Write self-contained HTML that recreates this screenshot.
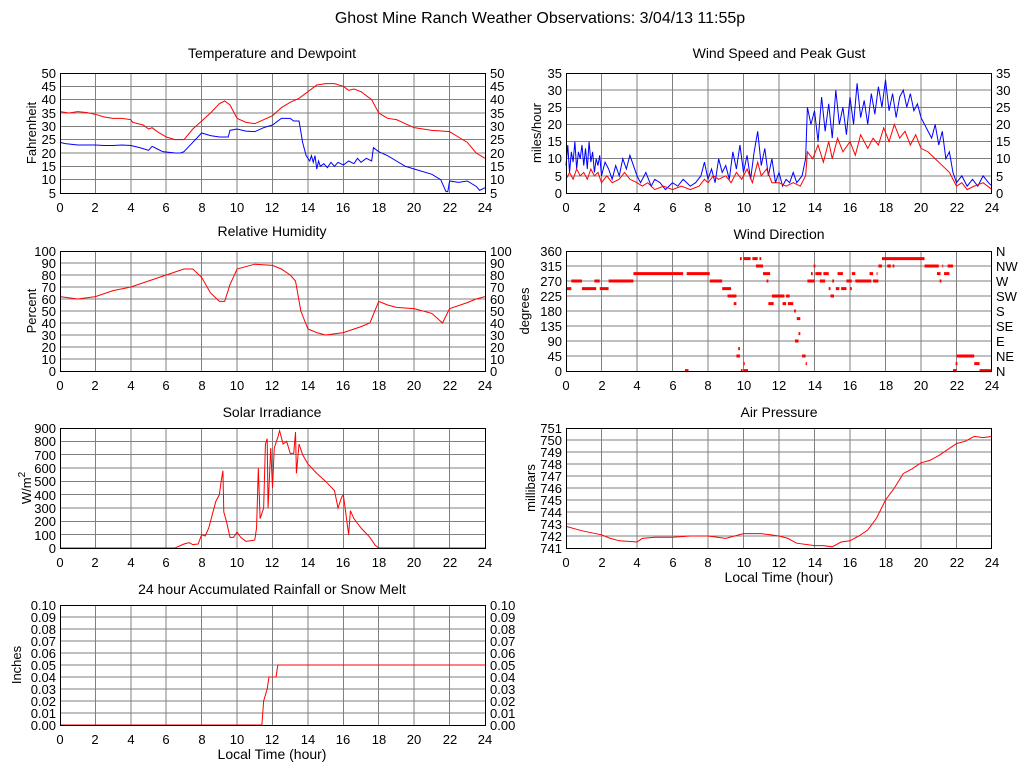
<!DOCTYPE html>
<html><head><meta charset="utf-8"><style>
html,body{margin:0;padding:0;background:#fff}
svg{display:block;font-family:"Liberation Sans",sans-serif;font-size:13px}
.g{stroke:#808080;stroke-width:1;fill:none;vector-effect:non-scaling-stroke;shape-rendering:crispEdges}
.b{stroke:#000;stroke-width:1;fill:none;shape-rendering:crispEdges}
.r{stroke:#f00;stroke-width:1;fill:none;vector-effect:non-scaling-stroke}
.bl{stroke:#00f;stroke-width:1;fill:none;vector-effect:non-scaling-stroke}
.d{stroke:#f00;stroke-width:3;fill:none;vector-effect:non-scaling-stroke}
.le text{text-anchor:end}
.ri text{text-anchor:start}
.xt text{text-anchor:middle}
.t{text-anchor:middle;font-size:14px}
</style></head><body>
<svg width="1024" height="768" viewBox="0 0 1024 768">
<rect width="1024" height="768" fill="#fff"/>
<text x="540" y="23" text-anchor="middle" font-size="16">Ghost Mine Ranch Weather Observations: 3/04/13 11:55p</text>

<!-- Temperature -->
<text class="t" x="272" y="58">Temperature and Dewpoint</text>
<g transform="translate(60,193) scale(17.708,-2.6667)">
<path class="g" d="M2 0V45M4 0V45M6 0V45M8 0V45M10 0V45M12 0V45M14 0V45M16 0V45M18 0V45M20 0V45M22 0V45M0 5H24M0 10H24M0 15H24M0 20H24M0 25H24M0 30H24M0 35H24M0 40H24"/>
<polyline class="r" points="0,30.5 0.5,30 1,30.5 1.5,30.2 2,29.5 2.5,28.5 3,28 3.5,28 4,27.5 4.1,26.5 4.7,25.5 5,24 5.2,24.5 5.5,23 6,21 6.5,20 7,20 7.5,24 8,27 8.5,30 9,33.5 9.3,34.5 9.6,33 10,28 10.5,26.5 11,26 11.5,27.5 12,29 12.5,32 13,34 13.5,35.5 14,38 14.5,40.5 15,41 15.5,41 16,40 16.3,38.5 16.6,39 17,38 17.6,35 18,30 18.5,28 19,27.5 19.5,26 20,24.5 21,23.5 22,23 22.5,21 23,19 23.5,15 24,13"/>
<polyline class="bl" points="0,19 0.3,18.5 1,18 2,18 2.5,17.8 3,17.8 3.5,18 4,17.8 4.5,17 5,16 5.2,17.5 5.5,16.5 5.8,15.5 6.5,15 6.8,15 7,15.5 7.5,19 8,22.5 8.5,21.5 9,21 9.5,21 9.6,23.5 10,24 10.5,23.2 11,23 11.5,24.5 12,25.5 12.5,28 13,28 13.2,27 13.5,27 13.7,19 13.9,14 14.1,12 14.2,14 14.3,11.5 14.4,14 14.5,9 14.6,12 14.7,10 14.9,11 15.1,9.5 15.3,11.5 15.5,10 15.7,11.5 16,10.5 16.3,12 16.6,11 16.8,13 17,11.5 17.3,13 17.6,12 17.7,17 18,15.5 18.5,14 19,12 19.5,10 20,9 21,7 21.5,5 21.8,0.5 21.9,0.5 22,4.5 22.5,4 23,4.5 23.5,2.5 23.7,1 24,2"/>
</g>
<rect class="b" x="60.5" y="73.5" width="425" height="120"/>
<text x="36" y="133" transform="rotate(-90 36 133)" text-anchor="middle">Fahrenheit</text>
<g class="le"><text x="56" y="78">50</text><text x="56" y="91">45</text><text x="56" y="104">40</text><text x="56" y="118">35</text><text x="56" y="131">30</text><text x="56" y="144">25</text><text x="56" y="158">20</text><text x="56" y="171">15</text><text x="56" y="184">10</text><text x="56" y="198">5</text></g>
<g class="ri"><text x="490" y="78">50</text><text x="490" y="91">45</text><text x="490" y="104">40</text><text x="490" y="118">35</text><text x="490" y="131">30</text><text x="490" y="144">25</text><text x="490" y="158">20</text><text x="490" y="171">15</text><text x="490" y="184">10</text><text x="490" y="198">5</text></g>
<g class="xt"><text x="60" y="212">0</text><text x="95" y="212">2</text><text x="131" y="212">4</text><text x="166" y="212">6</text><text x="202" y="212">8</text><text x="237" y="212">10</text><text x="272" y="212">12</text><text x="308" y="212">14</text><text x="343" y="212">16</text><text x="379" y="212">18</text><text x="414" y="212">20</text><text x="450" y="212">22</text><text x="485" y="212">24</text></g>

<!-- Wind speed -->
<text class="t" x="779" y="58">Wind Speed and Peak Gust</text>
<g transform="translate(566,193) scale(17.75,-3.4286)">
<path class="g" d="M2 0V35M4 0V35M6 0V35M8 0V35M10 0V35M12 0V35M14 0V35M16 0V35M18 0V35M20 0V35M22 0V35M0 5H24M0 10H24M0 15H24M0 20H24M0 25H24M0 30H24"/>
<polyline class="bl" points="0,8 0.1,14 0.2,6 0.3,12 0.4,9 0.5,15 0.6,7 0.7,12 0.8,10 0.9,14 1,8 1.1,13 1.2,7 1.3,15 1.4,9 1.5,12 1.6,6 1.7,10 1.8,8 1.9,11 2,5 2.2,9 2.4,7 2.6,4 2.8,8 3,5 3.2,10 3.4,7 3.6,11 3.8,8 4,5 4.2,3 4.5,6 4.8,2 5,4 5.3,3 5.6,1 6,3 6.3,2 6.6,4 7,2 7.3,3 7.6,5 7.8,9 8,4 8.2,7 8.4,3 8.6,10 8.8,6 9,8 9.2,4 9.4,12 9.6,7 9.8,14 10,6 10.2,11 10.4,4 10.6,12 10.8,18 11,8 11.2,13 11.4,5 11.6,10 11.8,3 12,6 12.2,2 12.4,4 12.6,3 12.8,6 13,3 13.3,5 13.5,10 13.6,25 13.8,20 14,24 14.2,15 14.4,28 14.6,18 14.8,26 15,16 15.2,30 15.4,20 15.6,25 15.8,17 16,28 16.2,20 16.4,32 16.6,22 16.8,27 17,20 17.2,29 17.4,23 17.6,31 17.8,25 18,33 18.2,24 18.4,29 18.6,22 18.8,28 19,30 19.2,25 19.4,29 19.6,24 19.8,26 20,22 20.3,19 20.6,16 20.8,20 21,14 21.2,18 21.4,10 21.6,12 21.8,6 22,3 22.3,5 22.6,2 22.9,4 23.2,2 23.5,5 23.8,3 24,2"/>
<polyline class="r" points="0,4 0.2,6 0.4,4 0.6,7 0.8,5 1,6 1.2,4 1.4,7 1.6,5 1.8,6 2,3 2.3,5 2.6,3 3,4 3.3,6 3.6,4 4,3 4.3,2 4.6,3 5,1 5.5,2 6,1 6.5,2 7,1 7.5,2 7.8,4 8,3 8.3,5 8.6,4 9,5 9.3,3 9.6,6 9.9,4 10.2,7 10.5,3 10.8,9 11,5 11.3,7 11.6,3 12,3 12.4,2 12.8,3 13.2,2 13.5,5 13.6,12 13.9,10 14.2,14 14.5,9 14.8,15 15,10 15.3,16 15.6,12 16,15 16.3,11 16.6,17 17,13 17.3,16 17.6,14 17.9,19 18.2,15 18.5,20 18.8,16 19.1,18 19.4,14 19.7,17 20,13 20.4,12 20.8,10 21.2,8 21.6,6 22,2 22.3,3 22.6,1 23,2 23.5,3 24,1"/>
</g>
<rect class="b" x="566.5" y="73.5" width="425" height="120"/>
<text x="541" y="133" transform="rotate(-90 541 133)" text-anchor="middle">miles/hour</text>
<g class="le"><text x="562" y="78">35</text><text x="562" y="95">30</text><text x="562" y="112">25</text><text x="562" y="129">20</text><text x="562" y="146">15</text><text x="562" y="163">10</text><text x="562" y="181">5</text><text x="562" y="198">0</text></g>
<g class="ri"><text x="996" y="78">35</text><text x="996" y="95">30</text><text x="996" y="112">25</text><text x="996" y="129">20</text><text x="996" y="146">15</text><text x="996" y="163">10</text><text x="996" y="181">5</text><text x="996" y="198">0</text></g>
<g class="xt"><text x="566" y="212">0</text><text x="602" y="212">2</text><text x="637" y="212">4</text><text x="673" y="212">6</text><text x="708" y="212">8</text><text x="744" y="212">10</text><text x="779" y="212">12</text><text x="815" y="212">14</text><text x="850" y="212">16</text><text x="886" y="212">18</text><text x="921" y="212">20</text><text x="957" y="212">22</text><text x="992" y="212">24</text></g>

<!-- Humidity -->
<text class="t" x="272" y="236">Relative Humidity</text>
<g transform="translate(60,371) scale(17.708,-1.2)">
<path class="g" d="M2 0V100M4 0V100M6 0V100M8 0V100M10 0V100M12 0V100M14 0V100M16 0V100M18 0V100M20 0V100M22 0V100M0 10H24M0 20H24M0 30H24M0 40H24M0 50H24M0 60H24M0 70H24M0 80H24M0 90H24"/>
<polyline class="r" points="0,62 1,60 2,62 3,67 4,70 5,75 6,80 7,85 7.5,85 8,78 8.5,65 9,58 9.3,58 9.6,72 10,85 11,89 12,88 12.5,85 13,80 13.3,75 13.6,50 14,35 14.5,32 15,30 16,32 17,37 17.5,40 18,58 18.5,55 19,53 20,52 21,48 21.6,40 22,52 23,57 23.5,60 24,62"/>
</g>
<rect class="b" x="60.5" y="251.5" width="425" height="120"/>
<text x="36" y="311" transform="rotate(-90 36 311)" text-anchor="middle">Percent</text>
<g class="le"><text x="56" y="256">100</text><text x="56" y="268">90</text><text x="56" y="280">80</text><text x="56" y="292">70</text><text x="56" y="304">60</text><text x="56" y="316">50</text><text x="56" y="328">40</text><text x="56" y="340">30</text><text x="56" y="352">20</text><text x="56" y="364">10</text><text x="56" y="376">0</text></g>
<g class="ri"><text x="490" y="256">100</text><text x="490" y="268">90</text><text x="490" y="280">80</text><text x="490" y="292">70</text><text x="490" y="304">60</text><text x="490" y="316">50</text><text x="490" y="328">40</text><text x="490" y="340">30</text><text x="490" y="352">20</text><text x="490" y="364">10</text><text x="490" y="376">0</text></g>
<g class="xt"><text x="60" y="390">0</text><text x="95" y="390">2</text><text x="131" y="390">4</text><text x="166" y="390">6</text><text x="202" y="390">8</text><text x="237" y="390">10</text><text x="272" y="390">12</text><text x="308" y="390">14</text><text x="343" y="390">16</text><text x="379" y="390">18</text><text x="414" y="390">20</text><text x="450" y="390">22</text><text x="485" y="390">24</text></g>

<!-- Wind direction -->
<text class="t" x="779" y="239">Wind Direction</text>
<g transform="translate(566,371) scale(17.75,-0.33333)">
<path class="g" d="M2 0V360M4 0V360M6 0V360M8 0V360M10 0V360M12 0V360M14 0V360M16 0V360M18 0V360M20 0V360M22 0V360M0 45H24M0 90H24M0 135H24M0 180H24M0 225H24M0 270H24M0 315H24"/>
<path class="d" d="M0 247H0.3M0.3 270H0.9M0.9 247H1.7M1.6 270H1.9M1.9 247H2.4M2.4 270H3.8M3.8 292H6.6M6.7 1H6.9M6.8 292H8.1M8.1 270H8.8M8.8 247H9.3M9.1 225H9.6M9.45 202H9.6M9.6 45H9.8M9.7 67H9.8M9.85 1H9.95M10 1H10.25M10 22H10.07M9.8 337H9.9M10 337H10.4M10.5 337H10.8M10.9 337H11M10.7 315H11.1M11.1 292H11.5M11.3 270H11.4M11.4 202H11.7M11.6 225H12.3M12.2 202H12.4M12.4 225H12.6M12.5 202H12.8M12.85 180H12.95M13 157H13.2M13.1 112H13.2M12.9 90H13.1M13.3 45H13.5M13.5 22H13.57M13.6 270H14M13.8 292H13.9M13.95 315H14.05M14.05 292H14.4M14.3 270H14.6M14.5 292H14.8M14.8 247H14.9M14.9 225H15.1M15 270H15.1M15.2 247H15.4M15.3 292H15.6M15.5 247H15.8M15.8 270H16.1M16 247H16.1M16.1 292H16.3M16.3 270H17.2M17.1 292H17.3M17.3 270H17.6M17.5 292H17.55M17.6 315H17.8M17.8 337H20.2M18.1 315H18.3M18.4 315H18.5M20.2 315H21M20.9 292H21.1M21.05 270H21.15M21.2 315H21.25M21.3 292H21.6M21.5 315H21.8M21.8 1H22M21.95 22H22.05M22 45H23M23 22H23.3M23.3 1H24"/>
</g>
<rect class="b" x="566.5" y="251.5" width="425" height="120"/>
<text x="529" y="311" transform="rotate(-90 529 311)" text-anchor="middle">degrees</text>
<g class="le"><text x="562" y="256">360</text><text x="562" y="271">315</text><text x="562" y="286">270</text><text x="562" y="301">225</text><text x="562" y="316">180</text><text x="562" y="331">135</text><text x="562" y="346">90</text><text x="562" y="361">45</text><text x="562" y="376">0</text></g>
<g class="ri"><text x="996" y="256">N</text><text x="996" y="271">NW</text><text x="996" y="286">W</text><text x="996" y="301">SW</text><text x="996" y="316">S</text><text x="996" y="331">SE</text><text x="996" y="346">E</text><text x="996" y="361">NE</text><text x="996" y="376">N</text></g>
<g class="xt"><text x="566" y="390">0</text><text x="602" y="390">2</text><text x="637" y="390">4</text><text x="673" y="390">6</text><text x="708" y="390">8</text><text x="744" y="390">10</text><text x="779" y="390">12</text><text x="815" y="390">14</text><text x="850" y="390">16</text><text x="886" y="390">18</text><text x="921" y="390">20</text><text x="957" y="390">22</text><text x="992" y="390">24</text></g>

<!-- Solar -->
<text class="t" x="272" y="417">Solar Irradiance</text>
<g transform="translate(60,548) scale(17.708,-0.13333)">
<path class="g" d="M2 0V900M4 0V900M6 0V900M8 0V900M10 0V900M12 0V900M14 0V900M16 0V900M18 0V900M20 0V900M22 0V900M0 100H24M0 200H24M0 300H24M0 400H24M0 500H24M0 600H24M0 700H24M0 800H24"/>
<polyline class="r" points="0,0 6.5,0 7,30 7.3,40 7.5,25 7.8,30 8,100 8.2,90 8.4,150 8.6,250 8.8,350 9,400 9.1,500 9.2,580 9.25,270 9.4,200 9.6,80 9.8,80 10,120 10.2,80 10.5,50 10.8,55 11,60 11.1,150 11.2,600 11.3,220 11.5,300 11.6,780 11.7,820 11.75,300 11.9,750 12,450 12.1,750 12.3,830 12.4,880 12.6,780 12.8,800 13,710 13.2,710 13.3,870 13.35,560 13.5,780 13.7,700 14,630 14.5,560 15,500 15.5,430 15.7,300 15.9,380 16,400 16.2,200 16.3,100 16.4,280 16.6,220 17,150 17.5,80 17.8,20 18,0 24,0"/>
</g>
<rect class="b" x="60.5" y="428.5" width="425" height="120"/>
<text x="31" y="488" transform="rotate(-90 31 488)" text-anchor="middle">W/m<tspan dy="-6" font-size="10">2</tspan></text>
<g class="le"><text x="56" y="433">900</text><text x="56" y="446">800</text><text x="56" y="460">700</text><text x="56" y="473">600</text><text x="56" y="486">500</text><text x="56" y="500">400</text><text x="56" y="513">300</text><text x="56" y="526">200</text><text x="56" y="540">100</text><text x="56" y="553">0</text></g>
<g class="xt"><text x="60" y="567">0</text><text x="95" y="567">2</text><text x="131" y="567">4</text><text x="166" y="567">6</text><text x="202" y="567">8</text><text x="237" y="567">10</text><text x="272" y="567">12</text><text x="308" y="567">14</text><text x="343" y="567">16</text><text x="379" y="567">18</text><text x="414" y="567">20</text><text x="450" y="567">22</text><text x="485" y="567">24</text></g>

<!-- Pressure -->
<text class="t" x="779" y="417">Air Pressure</text>
<g transform="translate(566,548) scale(17.75,-12)">
<path class="g" d="M2 0V10M4 0V10M6 0V10M8 0V10M10 0V10M12 0V10M14 0V10M16 0V10M18 0V10M20 0V10M22 0V10M0 1H24M0 2H24M0 3H24M0 4H24M0 5H24M0 6H24M0 7H24M0 8H24M0 9H24"/>
<polyline class="r" points="0,1.8 0.5,1.6 1,1.4 2,1.1 2.5,0.8 3,0.6 4,0.5 4.3,0.8 5,0.9 6,0.9 7,1 8,1 9,0.8 10,1.2 11,1.2 11.5,1.1 12,1 12.5,0.8 13,0.4 14,0.2 14.5,0.2 15,0.1 15.5,0.5 16,0.6 16.5,1 17,1.5 17.5,2.5 18,4 18.5,5 19,6.2 19.5,6.6 20,7.1 20.5,7.3 21,7.7 21.5,8.2 22,8.7 22.5,8.9 23,9.3 23.5,9.2 24,9.3"/>
</g>
<rect class="b" x="566.5" y="428.5" width="425" height="120"/>
<text x="535" y="488" transform="rotate(-90 535 488)" text-anchor="middle">millibars</text>
<g class="le"><text x="562" y="433">751</text><text x="562" y="445">750</text><text x="562" y="457">749</text><text x="562" y="469">748</text><text x="562" y="481">747</text><text x="562" y="493">746</text><text x="562" y="505">745</text><text x="562" y="517">744</text><text x="562" y="529">743</text><text x="562" y="541">742</text><text x="562" y="553">741</text></g>
<g class="xt"><text x="566" y="567">0</text><text x="602" y="567">2</text><text x="637" y="567">4</text><text x="673" y="567">6</text><text x="708" y="567">8</text><text x="744" y="567">10</text><text x="779" y="567">12</text><text x="815" y="567">14</text><text x="850" y="567">16</text><text x="886" y="567">18</text><text x="921" y="567">20</text><text x="957" y="567">22</text><text x="992" y="567">24</text></g>
<text x="779" y="582" text-anchor="middle" font-size="14">Local Time (hour)</text>

<!-- Rain -->
<text class="t" x="272" y="594">24 hour Accumulated Rainfall or Snow Melt</text>
<g transform="translate(60,725) scale(17.708,-12)">
<path class="g" d="M2 0V10M4 0V10M6 0V10M8 0V10M10 0V10M12 0V10M14 0V10M16 0V10M18 0V10M20 0V10M22 0V10M0 1H24M0 2H24M0 3H24M0 4H24M0 5H24M0 6H24M0 7H24M0 8H24M0 9H24"/>
<polyline class="r" points="0,0 11.4,0 11.5,2 11.7,3 11.8,4 12.2,4 12.3,5 24,5"/>
</g>
<rect class="b" x="60.5" y="605.5" width="425" height="120"/>
<text x="21" y="665" transform="rotate(-90 21 665)" text-anchor="middle">Inches</text>
<g class="le"><text x="56" y="610">0.10</text><text x="56" y="622">0.09</text><text x="56" y="634">0.08</text><text x="56" y="646">0.07</text><text x="56" y="658">0.06</text><text x="56" y="670">0.05</text><text x="56" y="682">0.04</text><text x="56" y="694">0.03</text><text x="56" y="706">0.02</text><text x="56" y="718">0.01</text><text x="56" y="730">0.00</text></g>
<g class="ri"><text x="490" y="610">0.10</text><text x="490" y="622">0.09</text><text x="490" y="634">0.08</text><text x="490" y="646">0.07</text><text x="490" y="658">0.06</text><text x="490" y="670">0.05</text><text x="490" y="682">0.04</text><text x="490" y="694">0.03</text><text x="490" y="706">0.02</text><text x="490" y="718">0.01</text><text x="490" y="730">0.00</text></g>
<g class="xt"><text x="60" y="744">0</text><text x="95" y="744">2</text><text x="131" y="744">4</text><text x="166" y="744">6</text><text x="202" y="744">8</text><text x="237" y="744">10</text><text x="272" y="744">12</text><text x="308" y="744">14</text><text x="343" y="744">16</text><text x="379" y="744">18</text><text x="414" y="744">20</text><text x="450" y="744">22</text><text x="485" y="744">24</text></g>
<text x="272" y="759" text-anchor="middle" font-size="14">Local Time (hour)</text>
</svg>
</body></html>
